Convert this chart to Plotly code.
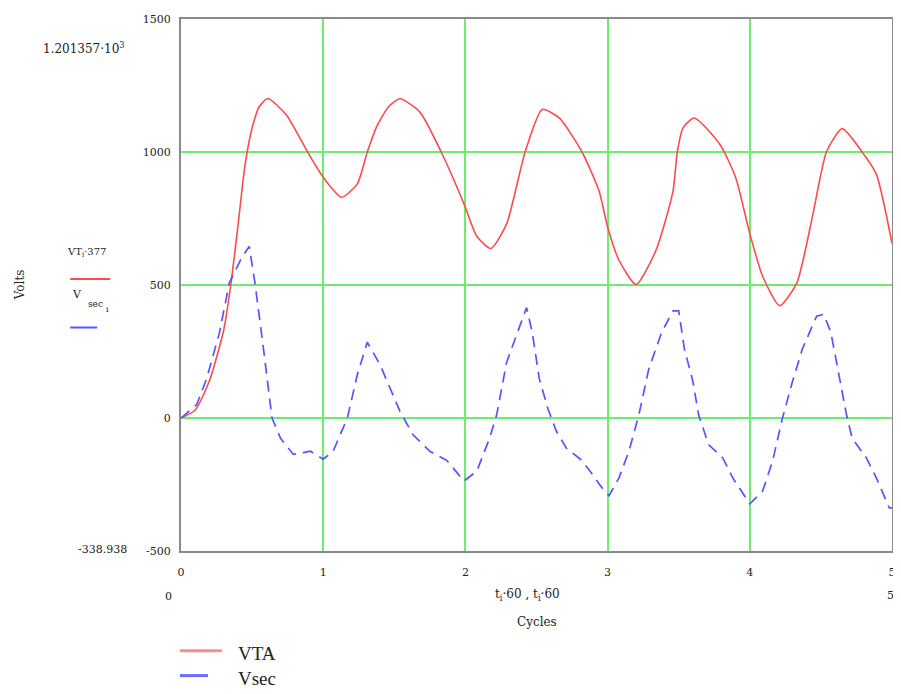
import plotly.graph_objects as go

# ---- data ----
vta_x = [0, 0.1, 0.2, 0.3, 0.35, 0.4, 0.45, 0.5, 0.55, 0.61, 0.74, 0.89, 1.0, 1.13, 1.24,
         1.31, 1.38, 1.46, 1.54, 1.68, 1.83, 1.99, 2.08, 2.18, 2.29, 2.42, 2.54, 2.66, 2.82,
         2.94, 3.0, 3.08, 3.2, 3.34, 3.46, 3.49, 3.53, 3.61, 3.79, 3.9, 4.0, 4.09, 4.21, 4.33,
         4.44, 4.54, 4.65, 4.79, 4.89, 5.0]
vta_y = [0, 30, 140, 330, 500, 720, 950, 1090, 1170, 1201, 1140, 1000, 905, 830, 880,
         1000, 1100, 1170, 1200, 1150, 1000, 805, 683, 637, 730, 1000, 1160, 1128, 1000,
         853, 718, 593, 502, 630, 853, 1000, 1090, 1128, 1028, 905, 693, 533, 422, 507,
         756, 1002, 1088, 1000, 916, 656]

vsec_x = [0, 0.11, 0.18, 0.27, 0.34, 0.43, 0.48, 0.52, 0.58, 0.64, 0.7, 0.79, 0.86, 0.91,
          1.0, 1.07, 1.17, 1.24, 1.31, 1.4, 1.54, 1.63, 1.75, 1.87, 1.99, 2.08, 2.17, 2.22,
          2.29, 2.35, 2.43, 2.47, 2.52, 2.58, 2.64, 2.71, 2.82, 2.89, 2.96, 3.01, 3.08, 3.15,
          3.22, 3.29, 3.38, 3.46, 3.5, 3.54, 3.6, 3.64, 3.71, 3.81, 3.88, 4.0, 4.09, 4.16,
          4.23, 4.3, 4.37, 4.47, 4.52, 4.57, 4.63, 4.68, 4.72, 4.82, 4.89, 4.98, 5.0]
vsec_y = [0, 50, 147, 320, 508, 606, 645, 508, 260, 0, -76, -137, -130, -125,
          -155, -125, 0, 163, 285, 200, 25, -62, -125, -160, -237, -200, -76, 12,
          210, 296, 415, 322, 147, 35, -50, -113, -160, -210, -262, -292, -225, -125,
          12, 185, 322, 403, 403, 260, 137, 12, -100, -150, -225, -323, -275, -162,
          0, 137, 260, 383, 390, 322, 160, 12, -76, -150, -225, -337, -339]

x_ticks = [0, 1, 2, 3, 4, 5]
y_ticks = [-500, 0, 500, 1000, 1500]

# ---- layout geometry (page body has an 8px margin) ----
OFF = 8
W, H = 893, 686
ML, MT = 181 - OFF, 13 - OFF
PW, PH = 712, 538
MR = W - ML - PW
MB = H - MT - PH


def px(p):
    return (p - OFF - ML) / PW


def py(p):
    return (H - MB - (p - OFF)) / PH


RED = "#ff4a4a"
BLUE = "#5555ff"
GRID = "#6ded6d"
FONT = "DejaVu Serif"

fig = go.Figure()
fig.add_trace(go.Scatter(x=vta_x, y=vta_y, mode="lines", name="VTA",
                         line=dict(color=RED, width=1.6, shape="spline", smoothing=0.6)))
fig.add_trace(go.Scatter(x=vsec_x, y=vsec_y, mode="lines", name="Vsec",
                         line=dict(color=BLUE, width=1.7, dash="11px,7px")))

fig.update_xaxes(range=[0, 5], tickvals=x_ticks, ticktext=[str(v) for v in x_ticks],
                 showgrid=True, gridcolor=GRID, gridwidth=2, zeroline=False,
                 showline=True, linecolor="#8a8a8a", linewidth=2, mirror=True,
                 ticks="", ticklabelstandoff=10,
                 tickfont=dict(family=FONT, size=11, color="#222"))
fig.update_yaxes(range=[-500, 1500], tickvals=y_ticks, ticktext=[str(v) for v in y_ticks],
                 showgrid=True, gridcolor=GRID, gridwidth=2, zeroline=False,
                 showline=True, linecolor="#8a8a8a", linewidth=2, mirror=True,
                 ticks="", ticklabelstandoff=6,
                 tickfont=dict(family=FONT, size=11, color="#222"))

ann = []


def text(x, y, s, size=11, xanchor="center", angle=0, family=FONT):
    ann.append(dict(xref="paper", yref="paper", x=px(x), y=py(y), text=s, showarrow=False,
                    xanchor=xanchor, yanchor="middle", textangle=angle,
                    font=dict(family=family, size=size, color="#222")))


text(20, 282, "Volts", size=12, angle=-90)
text(86, 249, "VT<sub>i</sub>·377", size=10)
text(77, 292, "V", size=11)
text(95, 301, "sec", size=9)
text(107, 307, "i", size=8)
text(84, 42, "1.201357·10<sup>3</sup>", size=12)
text(102, 549, "-338.938", size=11)
text(168, 597, "0", size=11)
text(891, 596, "5", size=11)
text(528, 595, "t<sub>i</sub>·60 , t<sub>i</sub>·60", size=12)
text(537, 623, "Cycles", size=12)
text(236, 655, "VTA", size=19, xanchor="left", family="Liberation Serif")
text(236, 680, "Vsec", size=19, xanchor="left", family="Liberation Serif")

shapes = []


def seg(x0, x1, y, color, width):
    shapes.append(dict(type="line", xref="paper", yref="paper", x0=px(x0), x1=px(x1),
                       y0=py(y), y1=py(y), line=dict(color=color, width=width)))


seg(70, 110, 276, RED, 2)
seg(70, 97, 325, BLUE, 2)
seg(180, 222, 652, "#ff8a8a", 3)
seg(180, 208, 677, "#6a6aff", 3)

fig.update_layout(width=W, height=H, margin=dict(l=ML, r=MR, t=MT, b=MB),
                  paper_bgcolor="white", plot_bgcolor="white", showlegend=False,
                  annotations=ann, shapes=shapes)

fig.write_html("out.html")
